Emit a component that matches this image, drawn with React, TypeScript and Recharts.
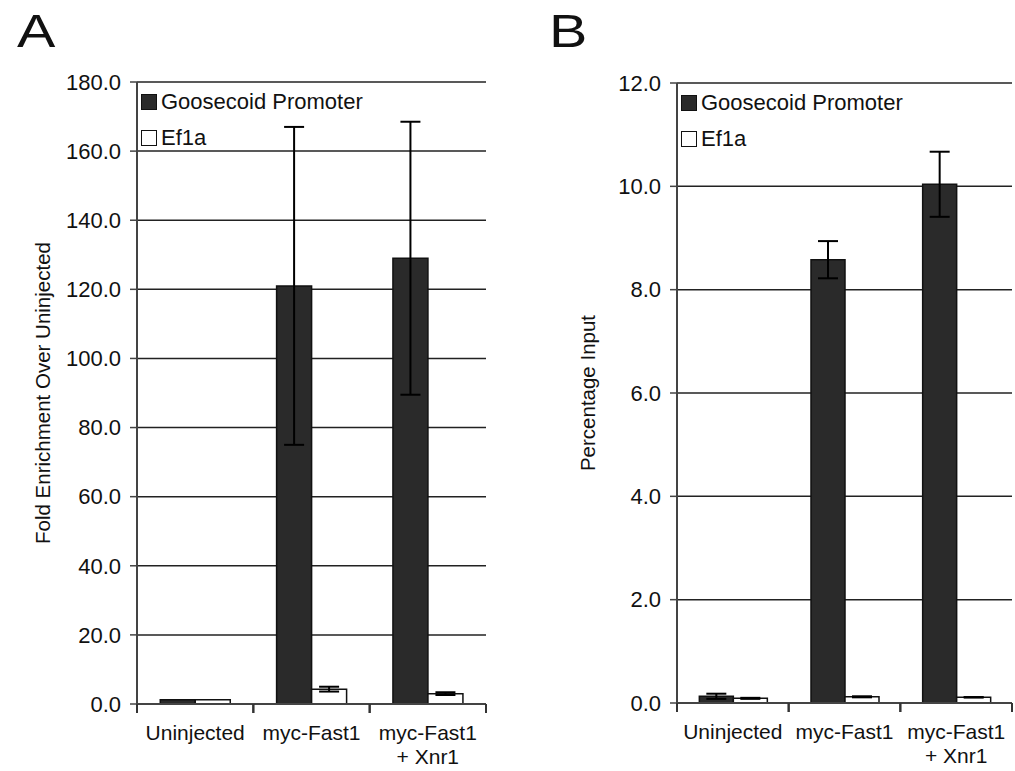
import { Bar, BarChart, CartesianGrid, ErrorBar, XAxis, YAxis } from 'recharts'

const categories = ['Uninjected', 'myc-Fast1', 'myc-Fast1\n+ Xnr1']

const foldGsc = [1.2, 121.0, 129.0]
const foldGscErr = [0, 46.0, 39.5]
const foldEf1a = [1.2, 4.3, 3.0]
const foldEf1aErr = [0, 0.7, 0.4]
const foldTicks = [0, 20, 40, 60, 80, 100, 120, 140, 160, 180]

const inputGsc = [0.13, 8.58, 10.04]
const inputGscErr = [0.05, 0.36, 0.63]
const inputEf1a = [0.09, 0.12, 0.11]
const inputEf1aErr = [0.01, 0.01, 0.005]
const inputTicks = [0, 2, 4, 6, 8, 10, 12]

const seriesNames = ['Goosecoid Promoter', 'Ef1a']

const FONT = '"Liberation Sans", Arial, sans-serif'
const DARK = '#2a2a2a'

const foldData = categories.map((name, i) => ({
  name,
  gsc: foldGsc[i],
  gscErr: foldGscErr[i],
  ef1a: foldEf1a[i],
  ef1aErr: foldEf1aErr[i],
}))

const inputData = categories.map((name, i) => ({
  name,
  gsc: inputGsc[i],
  gscErr: inputGscErr[i],
  ef1a: inputEf1a[i],
  ef1aErr: inputEf1aErr[i],
}))

// label plus the small marks on the category boundaries (half a band either side)
function CategoryTick({ x, y, payload }: any) {
  const lines = String(payload.value).split('\n')
  const half = payload.offset || 0
  return (
    <g>
      {half > 0 && (
        <>
          <line x1={x - half} x2={x - half} y1={y} y2={y + 9} stroke="#333" strokeWidth={2} />
          <line x1={x + half} x2={x + half} y1={y} y2={y + 9} stroke="#333" strokeWidth={2} />
        </>
      )}
      <text x={x} y={y} textAnchor="middle" fontFamily={FONT} fontSize={21} fill="#111">
        {lines.map((l, i) => (
          <tspan key={i} x={x} dy={i === 0 ? 36 : 24}>
            {l}
          </tspan>
        ))}
      </text>
    </g>
  )
}

function LegendBox({ left, top }: { left: number; top: number }) {
  return (
    <div style={{ position: 'absolute', left, top, fontFamily: FONT, fontSize: 22, color: '#111', lineHeight: '36px' }}>
      {seriesNames.map((n, i) => (
        <div key={n} style={{ display: 'flex', alignItems: 'center' }}>
          <span
            style={{
              display: 'inline-block',
              width: 14,
              height: 14,
              border: '1.5px solid #111',
              background: i === 0 ? DARK : '#fff',
              marginRight: 4,
            }}
          />
          {n}
        </div>
      ))}
    </div>
  )
}

interface PanelProps {
  data: any[]
  ticks: number[]
  max: number
  yLabel: string
  width: number
  axisWidth: number
  labelX: number
  top: number
  right: number
  bottomAxis: number
}

function Panel({ data, ticks, max, yLabel, width, axisWidth, labelX, top, right, bottomAxis }: PanelProps) {
  return (
    <BarChart
      width={width}
      height={771}
      data={data}
      margin={{ top, right, left: 0, bottom: 0 }}
      barCategoryGap="20%"
      barGap={0}
    >
      <CartesianGrid vertical={false} stroke="#222" strokeWidth={1.5} />
      <XAxis
        dataKey="name"
        height={bottomAxis}
        axisLine={{ stroke: '#444', strokeWidth: 2 }}
        tickLine={false}
        tickSize={0}
        tickMargin={0}
        interval={0}
        tick={<CategoryTick />}
      />
      <YAxis
        domain={[0, max]}
        ticks={ticks}
        width={axisWidth}
        tickFormatter={(v: number) => v.toFixed(1)}
        tick={{ fill: '#111', fontSize: 22, fontFamily: FONT }}
        tickSize={7}
        tickMargin={9}
        axisLine={{ stroke: '#444', strokeWidth: 2 }}
        tickLine={{ stroke: '#444', strokeWidth: 1.5 }}
        label={({ viewBox }: any) => (
          <text
            x={viewBox.x + labelX}
            y={viewBox.y + viewBox.height / 2}
            transform={`rotate(-90 ${viewBox.x + labelX} ${viewBox.y + viewBox.height / 2})`}
            textAnchor="middle"
            dominantBaseline="middle"
            fontFamily={FONT}
            fontSize={20.5}
            fill="#111"
          >
            {yLabel}
          </text>
        )}
      />
      <YAxis
        yAxisId="right"
        orientation="right"
        width={0}
        tick={false}
        tickLine={false}
        axisLine={{ stroke: '#444', strokeWidth: 2 }}
      />
      <Bar dataKey="gsc" name={seriesNames[0]} fill={DARK} stroke="#111" strokeWidth={1.5} isAnimationActive={false}>
        <ErrorBar dataKey="gscErr" width={10} stroke="#000" strokeWidth={2} />
      </Bar>
      <Bar dataKey="ef1a" name={seriesNames[1]} fill="#fff" stroke="#111" strokeWidth={1.5} isAnimationActive={false}>
        <ErrorBar dataKey="ef1aErr" width={10} stroke="#000" strokeWidth={2} />
      </Bar>
    </BarChart>
  )
}

export default function App() {
  const letter = { position: 'absolute' as const, top: 4, fontSize: 46, color: '#111', transform: 'scaleX(1.25)', transformOrigin: 'left top' }
  return (
    <div style={{ position: 'fixed', left: 0, top: 0, width: 1015, height: 771, background: '#fff', fontFamily: FONT }}>
      <div style={{ position: 'absolute', left: 0, top: 0 }}>
        <Panel
          data={foldData}
          ticks={foldTicks}
          max={180}
          yLabel="Fold Enrichment Over Uninjected"
          width={500}
          axisWidth={137}
          labelX={45}
          top={82}
          right={14}
          bottomAxis={67}
        />
      </div>
      <div style={{ position: 'absolute', left: 510, top: 0 }}>
        <Panel
          data={inputData}
          ticks={inputTicks}
          max={12}
          yLabel="Percentage Input"
          width={505}
          axisWidth={167}
          labelX={80}
          top={83}
          right={3}
          bottomAxis={68}
        />
      </div>
      <LegendBox left={141} top={84} />
      <LegendBox left={681} top={85} />
      <div style={{ ...letter, left: 17 }}>A</div>
      <div style={{ ...letter, left: 549 }}>B</div>
    </div>
  )
}
